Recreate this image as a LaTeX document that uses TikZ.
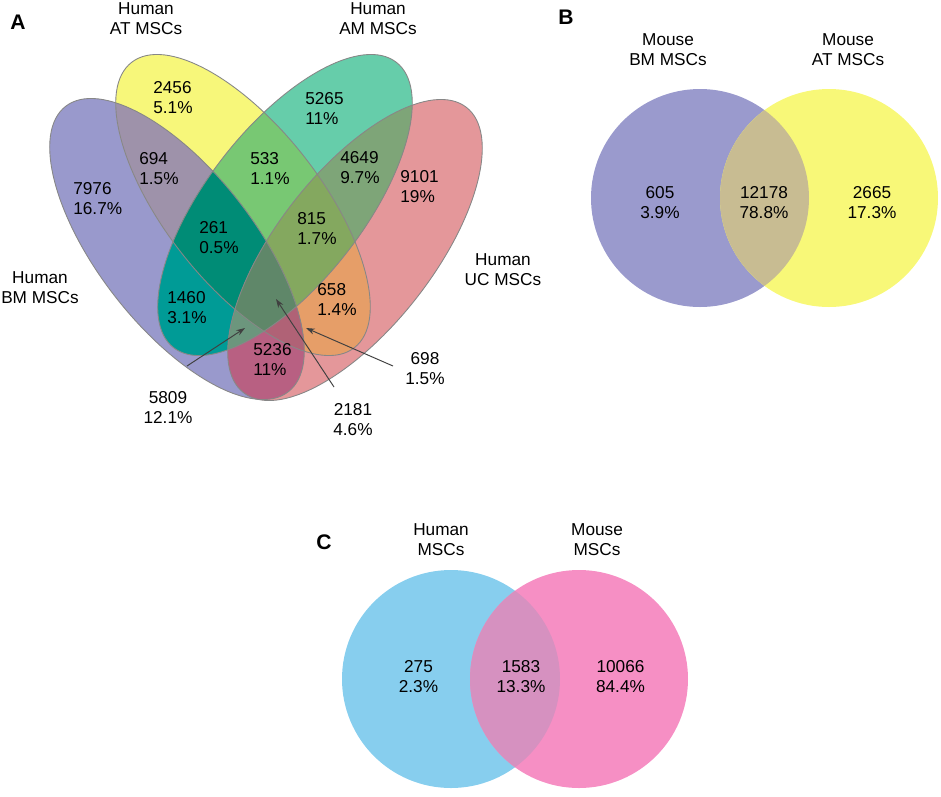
\documentclass[tikz,border=0pt]{standalone}
\usepackage{fontspec}
\setmainfont{Liberation Sans}
\usetikzlibrary{arrows.meta}

% region colours, panel A
\definecolor{bmOnly}{RGB}{153,153,204}
\definecolor{atOnly}{RGB}{247,247,122}
\definecolor{amOnly}{RGB}{102,205,170}
\definecolor{ucOnly}{RGB}{228,151,154}
\definecolor{bmAt}{RGB}{158,146,170}
\definecolor{atAm}{RGB}{120,200,115}
\definecolor{amUc}{RGB}{126,165,120}
\definecolor{bmAm}{RGB}{0,155,150}
\definecolor{atUc}{RGB}{230,158,104}
\definecolor{bmUc}{RGB}{184,96,130}
\definecolor{bmAtAm}{RGB}{0,140,118}
\definecolor{atAmUc}{RGB}{132,168,95}
\definecolor{bmAtUc}{RGB}{176,98,118}
\definecolor{bmAmUc}{RGB}{108,150,125}
\definecolor{allFour}{RGB}{95,135,105}
\definecolor{rimGray}{RGB}{135,135,135}
% panel B and C
\definecolor{mouseBm}{RGB}{154,154,205}
\definecolor{mouseAt}{RGB}{248,248,120}
\definecolor{mouseBoth}{RGB}{200,188,146}
\definecolor{humanAll}{RGB}{135,206,238}
\definecolor{mouseAll}{RGB}{246,143,196}
\definecolor{humanMouse}{RGB}{214,145,192}

\def\ovalfill[#1](#2:#3){\fill[#1,rotate around={#3:(#2)}] (#2) ellipse (181 and 78);}
\def\ovalclip(#1:#2){\clip[rotate around={#2:(#1)}] (#1) ellipse (181 and 78);}
\def\ovalrim(#1:#2){\draw[rim,rotate around={#2:(#1)}] (#1) ellipse (181 and 78);}

\begin{document}
\begin{tikzpicture}[x=0.02cm, y=-0.02cm,
	lbl/.style={font=\fontsize{9.8}{11.4}\selectfont, inner sep=0pt, align=center},
	nleft/.style={lbl, align=left, anchor=west},
	tag/.style={font=\fontsize{12}{14}\selectfont\bfseries, inner sep=0pt},
	rim/.style={draw=rimGray, line width=0.5pt},
	ptr/.style={draw=black!75, line width=0.55pt, -{Stealth[length=5pt,width=3.4pt]}}]
		%%%%% START %%%%%
		\useasboundingbox (0,0) rectangle (941,796);
		
		%%%%% A: four ellipses %%%%%
		\coordinate (cBM) at (177,249);
		\coordinate (cAT) at (243,205);
		\coordinate (cAM) at (285,205);
		\coordinate (cUC) at (355,250);
		
		\ovalfill[bmOnly](cBM:-52)
		\ovalfill[atOnly](cAT:-52)
		\ovalfill[amOnly](cAM:52)
		\ovalfill[ucOnly](cUC:52)
		
		% two at a time
		\begin{scope}\ovalclip(cBM:-52)\ovalfill[bmAt](cAT:-52)\end{scope}
		\begin{scope}\ovalclip(cAT:-52)\ovalfill[atAm](cAM:52)\end{scope}
		\begin{scope}\ovalclip(cAM:52)\ovalfill[amUc](cUC:52)\end{scope}
		\begin{scope}\ovalclip(cBM:-52)\ovalfill[bmAm](cAM:52)\end{scope}
		\begin{scope}\ovalclip(cAT:-52)\ovalfill[atUc](cUC:52)\end{scope}
		\begin{scope}\ovalclip(cBM:-52)\ovalfill[bmUc](cUC:52)\end{scope}
		
		% three at a time
		\begin{scope}\ovalclip(cBM:-52)\ovalclip(cAT:-52)\ovalfill[bmAtAm](cAM:52)\end{scope}
		\begin{scope}\ovalclip(cAT:-52)\ovalclip(cAM:52)\ovalfill[atAmUc](cUC:52)\end{scope}
		\begin{scope}\ovalclip(cBM:-52)\ovalclip(cAT:-52)\ovalfill[bmAtUc](cUC:52)\end{scope}
		\begin{scope}\ovalclip(cBM:-52)\ovalclip(cAM:52)\ovalfill[bmAmUc](cUC:52)\end{scope}
		
		% all four
		\begin{scope}\ovalclip(cBM:-52)\ovalclip(cAT:-52)\ovalclip(cAM:52)\ovalfill[allFour](cUC:52)\end{scope}
		
		\ovalrim(cBM:-52)
		\ovalrim(cAT:-52)
		\ovalrim(cAM:52)
		\ovalrim(cUC:52)
		
		\node[tag] (tagA) at (18,22) {A};
		\node[lbl] (hAT) at (146,18.5) {Human\\AT MSCs};
		\node[lbl] (hAM) at (378,18.5) {Human\\AM MSCs};
		\node[lbl] (hBM) at (40,288) {Human\\BM MSCs};
		\node[lbl] (hUC) at (503,270) {Human\\UC MSCs};
		
		\node[nleft] (n2456) at (153,98) {2456\\5.1\%};
		\node[nleft] (n5265) at (305,108.5) {5265\\11\%};
		\node[nleft] (n694) at (139,169) {694\\1.5\%};
		\node[nleft] (n7976) at (73,199) {7976\\16.7\%};
		\node[nleft] (n533) at (250,169) {533\\1.1\%};
		\node[nleft] (n4649) at (340,168) {4649\\9.7\%};
		\node[nleft] (n9101) at (400,187) {9101\\19\%};
		\node[nleft] (n261) at (199,238) {261\\0.5\%};
		\node[nleft] (n815) at (297,229) {815\\1.7\%};
		\node[nleft] (n1460) at (167,308) {1460\\3.1\%};
		\node[nleft] (n658) at (317,300) {658\\1.4\%};
		\node[nleft] (n5236) at (253,360) {5236\\11\%};
		\node[lbl] (n698) at (425,368.5) {698\\1.5\%};
		\node[lbl] (n2181) at (353,419.5) {2181\\4.6\%};
		\node[lbl] (n5809) at (168,407.5) {5809\\12.1\%};
		
		\coordinate (s5809) at (187,366);
		\coordinate (t5809) at (245,328);
		\coordinate (s2181) at (334,387);
		\coordinate (t2181) at (276,299);
		\coordinate (s698) at (393,366);
		\coordinate (t698) at (306,328);
		\draw[ptr] (s5809) -- (t5809);
		\draw[ptr] (s2181) -- (t2181);
		\draw[ptr] (s698) -- (t698);
		
		%%%%% B: mouse %%%%%
		\coordinate (cMBM) at (700,198);
		\coordinate (cMAT) at (829,198);
		\fill[mouseBm] (cMBM) circle (109);
		\fill[mouseAt] (cMAT) circle (109);
		\begin{scope}
			\clip (cMBM) circle (109);
			\fill[mouseBoth] (cMAT) circle (109);
		\end{scope}
		
		\node[tag] (tagB) at (566,17) {B};
		\node[lbl] (mBM) at (668,50) {Mouse\\BM MSCs};
		\node[lbl] (mAT) at (848,50) {Mouse\\AT MSCs};
		\node[lbl] (n605) at (660,202.5) {605\\3.9\%};
		\node[lbl] (n12178) at (764,202.5) {12178\\78.8\%};
		\node[lbl] (n2665) at (872,202.5) {2665\\17.3\%};
		
		%%%%% C: human vs mouse %%%%%
		\coordinate (cHU) at (451,679);
		\coordinate (cMO) at (579,679);
		\fill[humanAll] (cHU) circle (109);
		\fill[mouseAll] (cMO) circle (109);
		\begin{scope}
			\clip (cHU) circle (109);
			\fill[humanMouse] (cMO) circle (109);
		\end{scope}
		
		\node[tag] (tagC) at (324,542) {C};
		\node[lbl] (hMSC) at (441,539.5) {Human\\MSCs};
		\node[lbl] (mMSC) at (597,539.5) {Mouse\\MSCs};
		\node[lbl] (n275) at (418.5,677) {275\\2.3\%};
		\node[lbl] (n1583) at (521,677) {1583\\13.3\%};
		\node[lbl] (n10066) at (620.5,677) {10066\\84.4\%};
		
		%%%%% END %%%%%
\end{tikzpicture}
\end{document}
